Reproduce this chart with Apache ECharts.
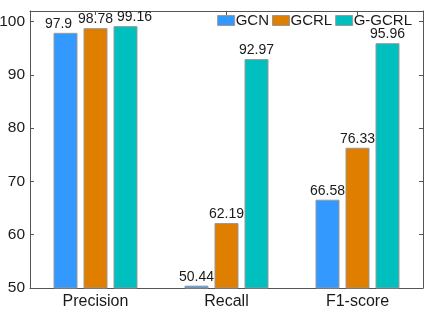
<!DOCTYPE html>
<html><head><meta charset="utf-8">
<script src="https://cdn.jsdelivr.net/npm/echarts@6/dist/echarts.min.js"></script>
<style>html,body{margin:0;padding:0;background:#fff}#c{width:431px;height:313px}</style>
</head><body><div id="c"></div>
<script>
var categories = ['Precision', 'Recall', 'F1-score'];
var gcn = [97.9, 50.44, 66.58];
var gcrl = [98.78, 62.19, 76.33];
var ggcrl = [99.16, 92.97, 95.96];
var yTicks = [50, 60, 70, 80, 90, 100];
// horizontal nudges of value labels (styling only)
var gcnLabelShift = [-7, 0, 0];
var gcrlLabelShift = [0, 0, 0];
var ggcrlLabelShift = [9, 0, 0];

var chart = echarts.init(document.getElementById('c'));
var font = 'Liberation Sans, Arial, Helvetica, sans-serif';
var axisLine = {show: true, lineStyle: {color: '#555', width: 1}};
var tick = {show: true, inside: true, length: 4, alignWithLabel: true, lineStyle: {color: '#555'}};
function mk(name, data, shifts, color) {
  return {
    name: name, type: 'bar', barWidth: 24, barGap: '25%',
    data: data.map(function (v, i) { return {value: v, label: {offset: [shifts[i], 0]}}; }),
    itemStyle: {color: color, borderColor: '#999', borderWidth: 1},
    label: {show: true, position: 'top', distance: 2, color: '#1a1a1a', fontSize: 14, fontFamily: font},
    xAxisIndex: 0, yAxisIndex: 0
  };
}
chart.setOption({
  animation: false,
  grid: {left: 30, right: 8, top: 11, bottom: 25, containLabel: false, outerBoundsMode: 'none'},
  legend: {
    top: 8, right: 14, itemWidth: 17, itemHeight: 10, itemGap: 3,
    icon: 'rect',
    itemStyle: {borderColor: '#999', borderWidth: 1},
    textStyle: {fontSize: 15, fontFamily: font, color: '#1a1a1a', padding: [0, 0, 0, -4]},
    data: ['GCN', 'GCRL', 'G-GCRL']
  },
  xAxis: [
    {type: 'category', data: categories, position: 'bottom', axisLine: axisLine, axisTick: tick,
     axisLabel: {fontSize: 16, fontFamily: font, color: '#1a1a1a', margin: 6}},
    {type: 'category', data: categories, position: 'top', axisLine: axisLine, axisTick: tick,
     axisLabel: {show: false}}
  ],
  yAxis: [
    {type: 'value', min: 50, max: 102, interval: 10, position: 'left', axisLine: axisLine,
     axisTick: {show: true, inside: true, length: 4, lineStyle: {color: '#555'}},
     splitLine: {show: false},
     axisLabel: {fontSize: 15.5, fontFamily: font, color: '#1a1a1a', margin: 5,
       formatter: function (v) { return yTicks.indexOf(v) >= 0 ? String(v) : ''; }}},
    {type: 'value', min: 50, max: 102, interval: 10, position: 'right', axisLine: axisLine,
     axisTick: {show: true, inside: true, length: 4, lineStyle: {color: '#555'}},
     splitLine: {show: false}, axisLabel: {show: false}}
  ],
  series: [mk('GCN', gcn, gcnLabelShift, '#3399FF'), mk('GCRL', gcrl, gcrlLabelShift, '#E07E00'), mk('G-GCRL', ggcrl, ggcrlLabelShift, '#00BFBF')]
});
</script></body></html>
